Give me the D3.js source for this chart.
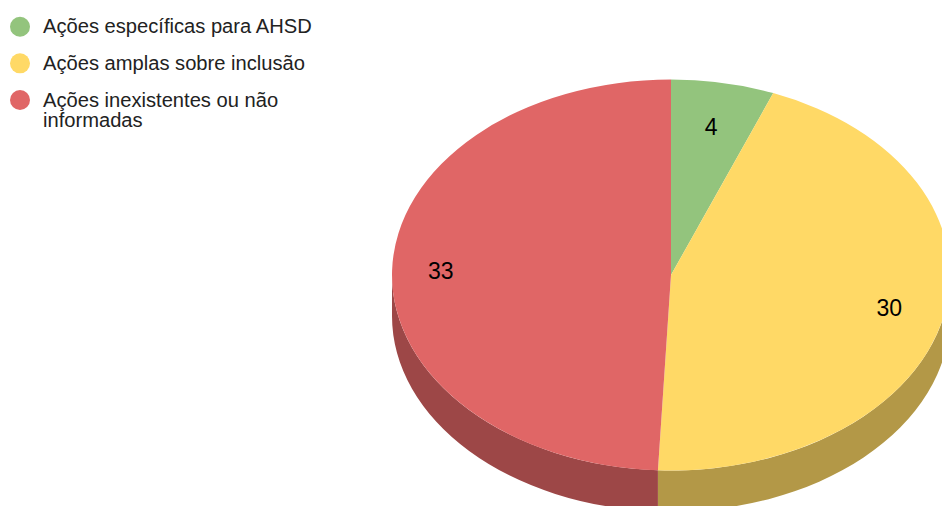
<!DOCTYPE html>
<html>
<head>
<meta charset="utf-8">
<script src="https://cdn.jsdelivr.net/npm/d3@7"></script>
<style>
    html, body { margin: 0; padding: 0; background: #fff; overflow: hidden; }
    svg { display: block; font-family: "Liberation Sans", Arial, sans-serif; }
</style>
</head>
<body>
<svg id="chart"></svg>
<script>
const width = 942;
const height = 506;

// Data
const categories = ['Ações específicas para AHSD', 'Ações amplas sobre inclusão', 'Ações inexistentes ou não informadas'];
const values = [4, 30, 33];
const colors = ['#93c47d', '#ffd966', '#e06666'];

// Pie geometry (tilted, so the ellipse has two radii)
const cx = 671;
const cy = 275;
const rx = 279;
const ry = 195.5;
const depth = 41;
const labelRadius = [0.77, 0.8, 0.825];

const color = d3.scaleOrdinal().domain(categories).range(colors);
const darker = d => {
    const c = d3.rgb(color(d));
    return d3.rgb(c.r * 0.7, c.g * 0.7, c.b * 0.7);
};

const svg = d3.select("#chart")
    .attr("width", width)
    .attr("height", height);

const pieData = d3.pie().sort(null).value(d => d.value)(
    categories.map((name, i) => ({ name, value: values[i] }))
);

// Point on the rim, angle 0 is at the top and goes clockwise
const rim = (a, dy) => [cx + rx * Math.sin(a), cy - ry * Math.cos(a) + dy];

// Side wall, only the part of each slice on the front half
const wall = svg.append("g");
pieData.forEach(d => {
    const a0 = Math.max(d.startAngle, Math.PI / 2);
    const a1 = Math.min(d.endAngle, Math.PI * 1.5);
    if (a1 <= a0) return;
    const [x0, y0] = rim(a0, 0);
    const [x1, y1] = rim(a1, 0);
    const [x2, y2] = rim(a1, depth);
    const [x3, y3] = rim(a0, depth);
    wall.append("path")
        .attr("d", `M${x0},${y0}A${rx},${ry} 0 0 1 ${x1},${y1}L${x2},${y2}A${rx},${ry} 0 0 0 ${x3},${y3}Z`)
        .attr("fill", darker(d.data.name));
});

// Top of the pie
const arc = d3.arc().innerRadius(0).outerRadius(rx);

svg.append("g")
    .attr("transform", `translate(${cx},${cy}) scale(1,${ry / rx})`)
    .selectAll("path")
    .data(pieData)
    .enter()
    .append("path")
    .attr("d", arc)
    .attr("fill", d => color(d.data.name));

// Value labels
const labelPos = (d, i) => {
    const r = rx * labelRadius[i];
    return d3.arc().innerRadius(r).outerRadius(r).centroid(d);
};

svg.append("g")
    .selectAll("text")
    .data(pieData)
    .enter()
    .append("text")
    .attr("x", (d, i) => cx + labelPos(d, i)[0])
    .attr("y", (d, i) => cy + labelPos(d, i)[1] * ry / rx)
    .attr("dy", "0.35em")
    .attr("text-anchor", "middle")
    .style("font-size", "23px")
    .style("fill", "#000")
    .text(d => d.data.value);

// Legend
const legendY = d3.scalePoint().domain(categories).range([26.7, 100]);
const legend = svg.append("g")
    .selectAll("g")
    .data(categories)
    .enter()
    .append("g")
    .attr("transform", d => `translate(0,${legendY(d)})`);

legend.append("circle")
    .attr("cx", 20)
    .attr("r", 10)
    .attr("fill", d => color(d));

legend.append("text")
    .attr("x", 43)
    .attr("y", 6.5)
    .style("font-size", "20.15px")
    .style("fill", "#222")
    .each(function(d) {
        // wrap long labels
        const text = d3.select(this);
        let line = [];
        let tspan = text.append("tspan").attr("x", 43);
        d.split(" ").forEach(word => {
            line.push(word);
            tspan.text(line.join(" "));
            if (tspan.node().getComputedTextLength() > 280) {
                line.pop();
                tspan.text(line.join(" "));
                line = [word];
                tspan = text.append("tspan").attr("x", 43).attr("dy", 20).text(word);
            }
        });
    });
</script>
</body>
</html>
